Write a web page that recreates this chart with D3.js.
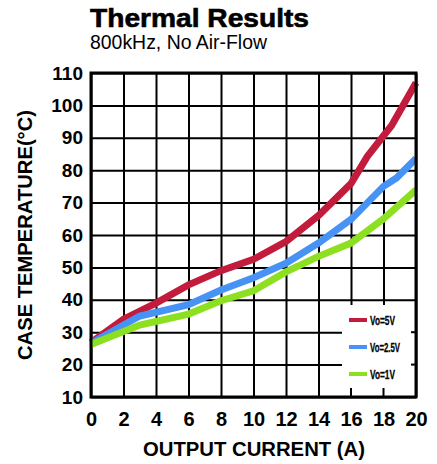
<!DOCTYPE html>
<html><head><meta charset="utf-8">
<script src="https://cdn.jsdelivr.net/npm/d3@7"></script>
<style>body{margin:0;background:#fff}svg{display:block}text{font-family:"Liberation Sans",Arial,sans-serif}</style>
</head><body><svg id="c" width="437" height="464"></svg>
<script>
const title = "Thermal Results";
const subtitle = "800kHz, No Air-Flow";
const xLabel = "OUTPUT CURRENT (A)";
const yLabel = "CASE TEMPERATURE(°C)";
const xTicks = [0,2,4,6,8,10,12,14,16,18,20];
const yTicks = [10,20,30,40,50,60,70,80,90,100,110];
const seriesNames = ["Vo=5V","Vo=2.5V","Vo=1V"];
const seriesColors = ["#c21b3c","#4793f5","#8de021"];
const x5V = [0,2,4,6,8,10,12,14,16,17,18.5,20];
const y5V = [26.8,34,39,44.6,49,52.5,58,66,75.9,84.2,93.8,107];
const x25V = [0,3,6,8,10,12,14,16,18,18.8,20];
const y25V = [26.6,35,38.5,43,46.8,51.3,57.5,64.8,75,77.6,83.6];
const x1V = [0,3,6,8,10,12,14,16,18,20];
const y1V = [26.2,32.2,35.6,39.7,42.8,48.6,53.4,57.5,65,73.9];

const svg = d3.select("#c");
const L=91,R=416,T=73,B=397;
const x = d3.scaleLinear().domain([0,20]).range([L,R]);
const y = d3.scaleLinear().domain([10,110]).range([B,T]);

svg.append("text").attr("x",90).attr("y",27).attr("font-size",26).attr("font-weight","bold")
  .attr("stroke","#000").attr("stroke-width",0.6)
  .attr("textLength",219).attr("lengthAdjust","spacingAndGlyphs").text(title);
svg.append("text").attr("x",90).attr("y",49).attr("font-size",19.5)
  .attr("textLength",177).attr("lengthAdjust","spacingAndGlyphs").text(subtitle);

// grid
const g = svg.append("g");
g.append("g").attr("transform",`translate(0,${B})`)
 .call(d3.axisBottom(x).tickValues(xTicks).tickSize(-(B-T)).tickFormat(""))
 .call(s=>{s.select(".domain").remove();s.selectAll("line").attr("stroke","#000").attr("stroke-width",2);});
g.append("g").attr("transform",`translate(${L},0)`)
 .call(d3.axisLeft(y).tickValues(yTicks).tickSize(-(R-L)).tickFormat(""))
 .call(s=>{s.select(".domain").remove();s.selectAll("line").attr("stroke","#000").attr("stroke-width",2);});

// lines
const line = d3.line().x(d=>x(d[0])).y(d=>y(d[1]));
const data = [d3.zip(x5V,y5V), d3.zip(x25V,y25V), d3.zip(x1V,y1V)];
data.forEach((d,i)=>{
  svg.append("path").datum(d).attr("d",line).attr("fill","none")
    .attr("stroke",seriesColors[i]).attr("stroke-width",7).attr("stroke-linejoin","miter").attr("stroke-linecap","butt");
});

// legend box
svg.append("rect").attr("x",342).attr("y",305).attr("width",R-342).attr("height",B-305).attr("fill","#fff");
[16,18].forEach(v=>svg.append("line").attr("x1",x(v)).attr("x2",x(v)).attr("y1",B).attr("y2",B-9).attr("stroke","#000").attr("stroke-width",2));
[20,30].forEach(v=>svg.append("line").attr("x1",R).attr("x2",R-5).attr("y1",y(v)).attr("y2",y(v)).attr("stroke","#000").attr("stroke-width",2));
const legY=[320,347,374];
seriesNames.forEach((n,i)=>{
  svg.append("line").attr("x1",349).attr("x2",367).attr("y1",legY[i]).attr("y2",legY[i]).attr("stroke",seriesColors[i]).attr("stroke-width",4);
  svg.append("text").attr("x",370).attr("y",legY[i]+5).attr("font-size",13).attr("font-weight","bold")
    .attr("stroke","#000").attr("stroke-width",0.3)
    .attr("textLength",i==1?30:25).attr("lengthAdjust","spacingAndGlyphs").text(n);
});

// frame
svg.append("rect").attr("x",L).attr("y",T).attr("width",R-L).attr("height",B-T).attr("fill","none").attr("stroke","#000").attr("stroke-width",3);

// tick labels
const ax = svg.append("g").attr("transform",`translate(0,${B})`)
 .call(d3.axisBottom(x).tickValues(xTicks).tickSize(0).tickPadding(15));
ax.select(".domain").remove();
ax.selectAll("text").attr("font-size",20).attr("font-weight","bold").attr("fill","#000").attr("font-family","Liberation Sans, Arial, sans-serif");
const ay = svg.append("g").attr("transform",`translate(${L},0)`)
 .call(d3.axisLeft(y).tickValues(yTicks).tickSize(0).tickPadding(8));
ay.select(".domain").remove();
ay.selectAll("text").attr("font-size",19).attr("font-weight","bold").attr("fill","#000").attr("font-family","Liberation Sans, Arial, sans-serif");

svg.append("text").attr("x",254).attr("y",456).attr("text-anchor","middle").attr("font-size",20).attr("font-weight","bold")
  .attr("textLength",222).attr("lengthAdjust","spacingAndGlyphs").text(xLabel);
svg.append("text").attr("transform","translate(32,235) rotate(-90)").attr("text-anchor","middle").attr("font-size",21).attr("font-weight","bold")
  .attr("textLength",250).attr("lengthAdjust","spacingAndGlyphs").text(yLabel);
</script></body></html>
